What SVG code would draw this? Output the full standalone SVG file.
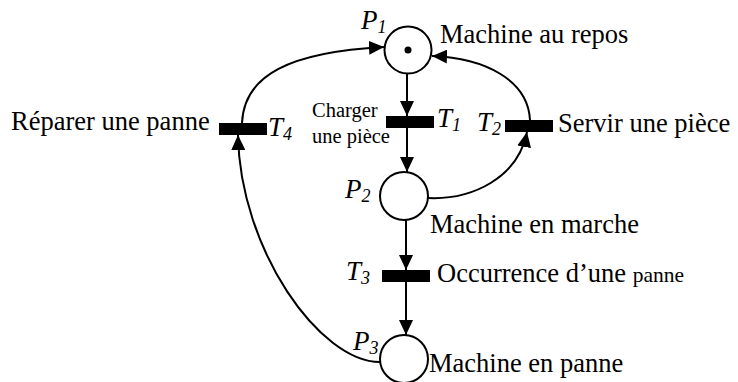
<svg xmlns="http://www.w3.org/2000/svg" width="738" height="382" viewBox="0 0 738 382">
<style>
.edge{fill:none;stroke:#000;stroke-width:2;marker-end:url(#ah)}
.place{fill:#fff;stroke:#000;stroke-width:2}
.bar{fill:#000}
.lbl{font-family:"Liberation Serif","Times New Roman",serif;font-size:26.5px;fill:#000}
.sm{font-family:"Liberation Serif","Times New Roman",serif;font-size:20.5px;fill:#000}
.pn{font-size:21.5px}
.id{font-family:"Liberation Serif","Times New Roman",serif;font-size:27px;font-style:italic;fill:#000}
.sub{font-size:18px}
</style>
<defs>
<marker id="ah" markerUnits="userSpaceOnUse" viewBox="0 0 16 14" markerWidth="16" markerHeight="14" refX="15" refY="7" orient="auto">
<path d="M0,0 L15,7 L0,14 z" fill="#000"/>
</marker>
</defs>
<rect width="738" height="382" fill="#fff"/>
<g id="connectors">
<path class="edge" d="M407 74 L407 116"/>
<path class="edge" d="M407 128 L407 172"/>
<path class="edge" d="M428 198 C472 200 518 178 527 132"/>
<path class="edge" d="M530 120 C528 80 485 58 432 56"/>
<path class="edge" d="M406 220 L406 270"/>
<path class="edge" d="M406 282 L406 335"/>
<path class="edge" d="M380 362 C320 362 240 250 238 135"/>
<path class="edge" d="M242 123 C244 75 290 52 384 47"/>
</g>
<g id="P1">
<circle class="place" cx="408" cy="50" r="23.5"/>
<circle cx="408" cy="50" r="3.5" fill="#000"/>
<text class="id" x="361" y="29">P<tspan class="sub" dy="4">1</tspan></text>
<text class="lbl" x="440" y="43">Machine au repos</text>
</g>
<g id="P2">
<circle class="place" cx="404" cy="196" r="24"/>
<text class="id" x="345" y="198">P<tspan class="sub" dy="4">2</tspan></text>
<text class="lbl" x="430" y="233">Machine en marche</text>
</g>
<g id="P3">
<circle class="place" cx="404" cy="359" r="24"/>
<text class="id" x="353" y="350">P<tspan class="sub" dy="4">3</tspan></text>
<text class="lbl" x="429" y="372">Machine en panne</text>
</g>
<g id="T1">
<rect class="bar" x="386" y="116" width="48" height="12"/>
<text class="id" x="437" y="127">T<tspan class="sub" dy="4">1</tspan></text>
<text class="sm" x="312" y="117">Charger</text>
<text class="sm" x="312" y="143">une pièce</text>
</g>
<g id="T2">
<rect class="bar" x="505" y="120" width="48" height="12"/>
<text class="id" x="477" y="131">T<tspan class="sub" dy="4">2</tspan></text>
<text class="lbl" x="558" y="132">Servir une pièce</text>
</g>
<g id="T3">
<rect class="bar" x="382" y="270" width="48" height="12"/>
<text class="id" x="346" y="280">T<tspan class="sub" dy="4">3</tspan></text>
<text class="lbl" x="437" y="282">Occurrence d’une <tspan class="pn">panne</tspan></text>
</g>
<g id="T4">
<rect class="bar" x="219" y="123" width="48" height="12"/>
<text class="id" x="268" y="136">T<tspan class="sub" dy="4">4</tspan></text>
<text class="lbl" x="11" y="130">Réparer une panne</text>
</g>
</svg>
